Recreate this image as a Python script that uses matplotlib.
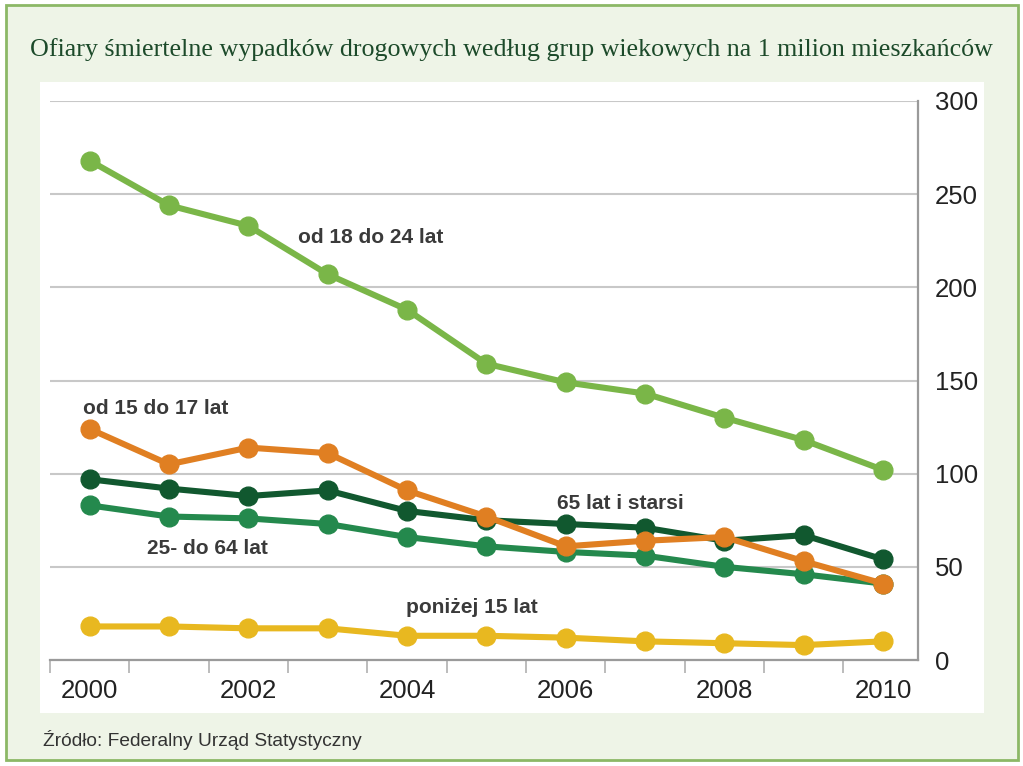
import matplotlib.pyplot as plt
from matplotlib.patches import Rectangle
from matplotlib.ticker import MultipleLocator, FixedLocator

# Dane: ofiary na 1 mln mieszkańców
years = [2000, 2001, 2002, 2003, 2004, 2005, 2006, 2007, 2008, 2009, 2010]
age_18_24 = [268, 244, 233, 207, 188, 159, 149, 143, 130, 118, 102]
age_15_17 = [124, 105, 114, 111, 91, 77, 61, 64, 66, 53, 41]
age_65_plus = [97, 92, 88, 91, 80, 75, 73, 71, 64, 67, 54]
age_25_64 = [83, 77, 76, 73, 66, 61, 58, 56, 50, 46, 41]
age_under_15 = [18, 18, 17, 17, 13, 13, 12, 10, 9, 8, 10]

y_ticks = [0, 50, 100, 150, 200, 250, 300]
x_ticks = [2000, 2002, 2004, 2006, 2008, 2010]

W, H = 1023, 766
fig = plt.figure(figsize=(W / 100, H / 100), dpi=100)

# tło: jasnozielona ramka i białe pole
fig.patches.append(Rectangle((6 / W, 1 - 760 / H), 1012 / W, 755 / H, transform=fig.transFigure,
                             facecolor='#eef4e7', edgecolor='#8cb866', linewidth=2, zorder=-2))
fig.patches.append(Rectangle((40 / W, 1 - 713 / H), 944 / W, 631 / H, transform=fig.transFigure,
                             facecolor='white', edgecolor='none', zorder=-1))

fig.text(0.5, 1 - 50 / H, 'Ofiary śmiertelne wypadków drogowych według grup wiekowych na 1 milion mieszkańców',
         ha='center', va='center', fontsize=18.7, family='Liberation Serif', color='#1c4a2a')
fig.text(43 / W, 1 - 740 / H, 'Źródło: Federalny Urząd Statystyczny', ha='left', va='center',
         fontsize=13.8, family='Liberation Sans', color='#333333')

ax = fig.add_axes([50 / W, 1 - 660 / H, 868 / W, 559 / H])
ax.set_zorder(2)
ax.set_facecolor('none')

series = [
    (age_under_15, '#e8b820'),
    (age_25_64, '#24894d'),
    (age_65_plus, '#11582f'),
    (age_15_17, '#e07f22'),
    (age_18_24, '#7ab648'),
]
for i, (vals, col) in enumerate(series):
    ax.plot(years, vals, color=col, lw=4.4, marker='o', ms=13.5, zorder=3 + i, clip_on=False)

ax.set_xlim(1999.5, 2010.44)
ax.set_ylim(0, 300)

for s in ['top', 'left']:
    ax.spines[s].set_visible(False)
for s in ['bottom', 'right']:
    ax.spines[s].set_color('#9a9a9a')
    ax.spines[s].set_linewidth(1.6)

ax.yaxis.tick_right()
ax.yaxis.set_major_locator(FixedLocator(y_ticks))
ax.grid(axis='y', color='#c8c8c8', lw=1.5, zorder=1)
ax.tick_params(axis='y', length=0, pad=12, labelsize=18.5, labelcolor='#222222')

ax.xaxis.set_major_locator(FixedLocator(x_ticks))
ax.xaxis.set_minor_locator(MultipleLocator(1, offset=0.5))
ax.tick_params(axis='x', which='major', length=0, pad=14, labelsize=18.5, labelcolor='#222222')
ax.tick_params(axis='x', which='minor', length=9, width=1.2, color='#b0b0b0')

for lab in ax.get_xticklabels() + ax.get_yticklabels():
    lab.set_family('Liberation Sans')

lab_style = dict(fontsize=15, fontweight='bold', color='#3a3a3a', family='Liberation Sans', va='center', zorder=10)
ax.text(2002.62, 227, 'od 18 do 24 lat', ha='left', **lab_style)
ax.text(1999.91, 135, 'od 15 do 17 lat', ha='left', **lab_style)
ax.text(2005.89, 84, '65 lat i starsi', ha='left', **lab_style)
ax.text(2000.72, 60, '25- do 64 lat', ha='left', **lab_style)
ax.text(2003.99, 28, 'poniżej 15 lat', ha='left', **lab_style)

fig.savefig('out.png', dpi=100)
